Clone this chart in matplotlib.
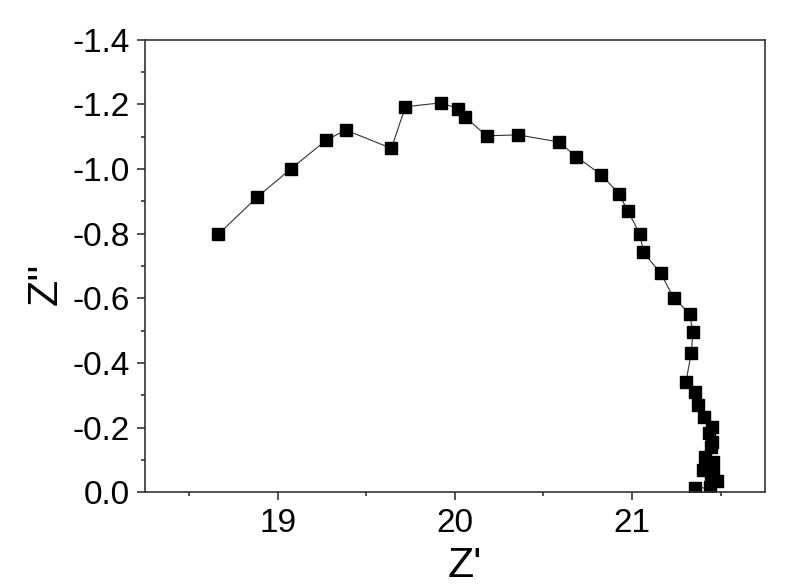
import matplotlib
matplotlib.use("Agg")
import matplotlib.pyplot as plt
from matplotlib.ticker import MultipleLocator

plt.rcParams['font.family'] = ['Liberation Sans', 'DejaVu Sans']

z_real = [18.664, 18.884, 19.073, 19.273, 19.384, 19.642, 19.721, 19.921, 20.020, 20.060,
          20.180, 20.356, 20.587, 20.687, 20.826, 20.926, 20.977, 21.045, 21.065, 21.163,
          21.235, 21.325, 21.344, 21.335, 21.305, 21.356, 21.373, 21.404,
          21.453, 21.436, 21.453, 21.445, 21.414, 21.459, 21.403, 21.459, 21.448, 21.479,
          21.442, 21.357]
z_imag = [-0.798, -0.913, -1.000, -1.089, -1.121, -1.064, -1.193, -1.205, -1.187, -1.160,
          -1.103, -1.106, -1.084, -1.038, -0.983, -0.924, -0.870, -0.799, -0.742, -0.677,
          -0.602, -0.553, -0.496, -0.431, -0.342, -0.309, -0.269, -0.232,
          -0.201, -0.183, -0.155, -0.139, -0.108, -0.093, -0.068, -0.053, -0.034, -0.034,
          -0.015, -0.012]

fig = plt.figure(figsize=(8, 5.86), dpi=100)
ax = fig.add_axes([0.181, 0.160, 0.775, 0.772])

ax.plot(z_real, z_imag, color='#333333', linewidth=0.8, marker='s',
        markersize=8.2, markerfacecolor='black', markeredgecolor='black')

ax.set_xlim(18.25, 21.75)
ax.set_ylim(0.0, -1.4)
ax.xaxis.set_major_locator(MultipleLocator(1))
ax.xaxis.set_minor_locator(MultipleLocator(0.5))
ax.yaxis.set_major_locator(MultipleLocator(0.2))
ax.yaxis.set_minor_locator(MultipleLocator(0.1))
ax.yaxis.set_major_formatter(matplotlib.ticker.FuncFormatter(lambda v, p: f"{v:.1f}" if abs(v) > 1e-9 else "0.0"))

for s in ax.spines.values():
    s.set_color('#333333')
    s.set_linewidth(1.2)

ax.tick_params(which='major', direction='out', length=6, width=1.2, color='#333333',
               labelsize=24, pad=5)
ax.tick_params(which='minor', direction='out', length=3, width=1.2, color='#333333')
ax.tick_params(top=False, right=False, which='both')

ax.set_xlabel("Z'", fontsize=31)
ax.set_ylabel("Z''", fontsize=31)
ax.xaxis.set_label_coords(0.516, -0.118)
ax.yaxis.set_label_coords(-0.128, 0.46)

fig.savefig("out.png", dpi=100)
